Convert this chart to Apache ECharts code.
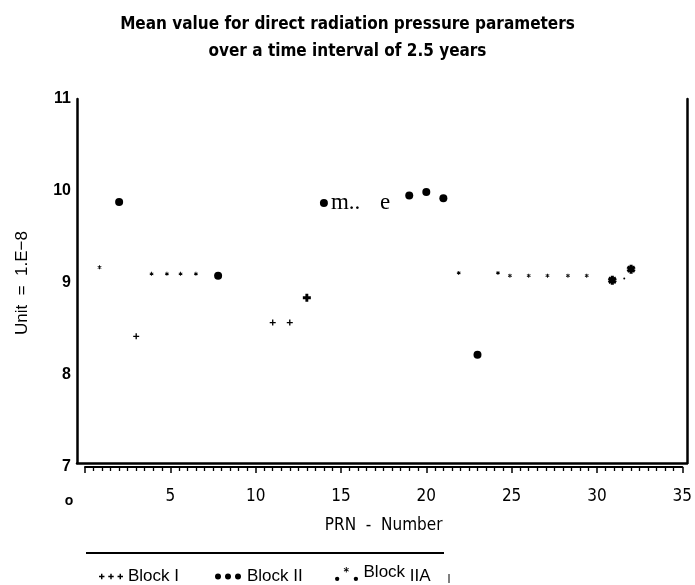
<!DOCTYPE html>
<html><head><meta charset="utf-8">
<script src="https://cdn.jsdelivr.net/npm/echarts@6/dist/echarts.min.js"></script>
<style>html,body{margin:0;padding:0;background:#fff}#c{width:695px;height:585px}</style>
</head><body><div id="c"></div>
<script>
// ---- data ----
const titleText = 'Mean value for direct radiation pressure parameters\nover a time interval of 2.5 years';
const xAxisName = 'PRN  -  Number';
const yAxisName = 'Unit  =  1.E\u22128';
const xTicks = [0, 5, 10, 15, 20, 25, 30, 35];
const yTicks = [7, 8, 9, 10, 11];
const blockIPrn = [3, 11, 12];
const blockIVal = [8.42, 8.57, 8.57];
const blockIBoldPrn = [13];
const blockIBoldVal = [8.84];
const blockIIPrn = [2, 7.8, 14, 19, 20, 21, 23];
const blockIIVal = [9.88, 9.08, 9.87, 9.95, 9.99, 9.92, 8.22];
const blockIIAPrn = [0.85, 3.9, 4.8, 5.6, 6.5, 21.9, 24.2, 24.9, 26.0, 27.1, 28.3, 29.4];
const blockIIAVal = [9.17, 9.10, 9.10, 9.10, 9.10, 9.11, 9.11, 9.08, 9.08, 9.08, 9.08, 9.08];
const blockIIADotPrn = [31.6];
const blockIIADotVal = [9.05];
const blockIIABoldPrn = [30.9, 32.0];
const blockIIABoldVal = [9.03, 9.15];
const annotationPrn = 14;
const annotationText = ['m.. ', 'e'];
const seriesNames = ['Block I', 'Block II', 'Block IIA'];

// ---- symbols ----
function plusPath(t) { const a = 5 - t / 2, b = 5 + t / 2;
  return `M${a} 0H${b}V${a}H10V${b}H${b}V10H${a}V${b}H0V${a}H${a}Z`; }
function astPath(t) {
  const h = t / 2, nx = -0.5 * h, ny = 0.866 * h;
  const P = [0.67, 2.5], Q = [9.33, 7.5];
  const A = [P[0] + nx, P[1] + ny], B = [P[0] - nx, P[1] - ny], C = [Q[0] - nx, Q[1] - ny], D = [Q[0] + nx, Q[1] + ny];
  const m = p => [p[0], 10 - p[1]];
  const f = p => p[0].toFixed(2) + ' ' + p[1].toFixed(2);
  return `M${5 - h} 0L${5 + h} 0L${5 + h} 10L${5 - h} 10Z` +
    `M${f(A)}L${f(B)}L${f(C)}L${f(D)}Z` +
    `M${f(m(A))}L${f(m(D))}L${f(m(C))}L${f(m(B))}Z`;
}
function xf(path, s, dx, dy) {
  return path.replace(/([MLHV])([\d.\-]+)(?: ([\d.\-]+))?/g, (q, c, x, y) => {
    if (c === 'H') return 'H' + (+x * s + dx).toFixed(2);
    if (c === 'V') return 'V' + (+x * s + dy).toFixed(2);
    return c + (+x * s + dx).toFixed(2) + ' ' + (+y * s + dy).toFixed(2);
  });
}
const circ = (cx, cy, r) => `M${cx - r} ${cy}A${r} ${r} 0 1 0 ${cx + r} ${cy}A${r} ${r} 0 1 0 ${cx - r} ${cy}Z`;
const PLUS = 'path://' + plusPath(2.2);
const PLUS_B = 'path://' + plusPath(3.6);
const AST = 'path://' + astPath(2.2);
const AST_B = 'path://' + astPath(3.6);
const legPlus = 'path://' + [0, 17, 34].map(o => xf(plusPath(2.6), 1, o, 0)).join('');
const legDots = 'path://' + [3, 13, 23].map(c => circ(c, 3, 3)).join('');
const legIIA = 'path://' + circ(2.5, 12, 2.2) + xf(astPath(1.6), 0.55, 9, 0) + circ(21.5, 12, 2.2);

const toPts = (xs, ys) => xs.map((x, i) => [x, ys[i]]);
const black = '#000';
const sansNarrow = '"Liberation Sans Narrow","DejaVu Sans Condensed","Liberation Sans",Arial,sans-serif';
const sans = '"Liberation Sans",Arial,sans-serif';
const serif = '"Liberation Serif","DejaVu Serif",serif';
const mark = { color: black, opacity: 1 };

const chart = echarts.init(document.getElementById('c'), null, { renderer: 'canvas' });
chart.setOption({
  animation: false,
  backgroundColor: '#fff',
  title: {
    text: titleText, left: 'center', top: 6,
    textStyle: { fontFamily: sansNarrow, fontWeight: 'bold', fontSize: 17, lineHeight: 27, color: black }
  },
  grid: [
    { left: 77, right: 8, top: 99, bottom: 122 },
    { left: 85, right: 12, top: 99, bottom: 118 }
  ],
  xAxis: [
    { gridIndex: 0, type: 'value', position: 'top', min: 0, max: 1,
      axisLine: { show: true, lineStyle: { color: black, width: 2.5 } },
      axisTick: { show: false }, axisLabel: { show: false }, splitLine: { show: false } },
    { gridIndex: 1, type: 'value', min: xTicks[0], max: xTicks[xTicks.length - 1], interval: 5,
      name: xAxisName, nameLocation: 'middle', nameGap: 50,
      nameTextStyle: { fontFamily: sansNarrow, fontSize: 17, color: black },
      axisLine: { show: true, onZero: false, lineStyle: { color: black, width: 2 } },
      axisTick: { show: true, length: 6, lineStyle: { color: black, width: 1.5 } },
      minorTick: { show: true, splitNumber: 10, length: 4, lineStyle: { color: black, width: 1.3 } },
      splitLine: { show: false },
      axisLabel: { margin: 21, fontFamily: sansNarrow, fontSize: 17, color: black,
        formatter: v => v === 0 ? '{z|o}' : String(v),
        rich: { z: { fontFamily: sans, fontWeight: 'bold', fontSize: 14, padding: [6, 32, 0, 0] } } } }
  ],
  yAxis: [
    { gridIndex: 0, type: 'value', min: 0, max: 1, position: 'left',
      axisLine: { show: true, lineStyle: { color: black, width: 2.5 } },
      axisTick: { show: false }, axisLabel: { show: false }, splitLine: { show: false } },
    { gridIndex: 0, type: 'value', min: 0, max: 1, position: 'right',
      axisLine: { show: true, lineStyle: { color: black, width: 2.5 } },
      axisTick: { show: false }, axisLabel: { show: false }, splitLine: { show: false } },
    { gridIndex: 1, type: 'value', min: yTicks[0], max: yTicks[yTicks.length - 1], interval: 1,
      offset: 8,
      name: yAxisName, nameLocation: 'middle', nameGap: 46, nameRotate: 90,
      nameTextStyle: { fontFamily: sans, fontSize: 17, color: black },
      axisLine: { show: false }, axisTick: { show: false }, splitLine: { show: false },
      axisLabel: { margin: 6, fontFamily: sans, fontWeight: 'bold', fontSize: 16, color: black } }
  ],
  legend: [
    { data: [{ name: seriesNames[0], icon: legPlus }], left: 94, top: 563, itemWidth: 24, itemHeight: 6,
      selectedMode: false, textStyle: { fontFamily: sans, fontSize: 17, color: black } },
    { data: [{ name: seriesNames[1], icon: legDots }], left: 210, top: 563, itemWidth: 28, itemHeight: 6,
      selectedMode: false, textStyle: { fontFamily: sans, fontSize: 17, color: black } },
    { data: [{ name: seriesNames[2], icon: legIIA }], left: 330, top: 559, itemWidth: 24, itemHeight: 14,
      selectedMode: false, formatter: n => '{a|Block }{b|IIA}',
      textStyle: { fontFamily: sans, fontSize: 17, color: black,
        rich: { a: { fontFamily: sans, fontSize: 17, color: black, padding: [0, 0, 3, 0] },
                b: { fontFamily: sans, fontSize: 17, color: black, padding: [5, 0, 0, 0] } } } }
  ],
  graphic: [
    { type: 'line', shape: { x1: 86, y1: 553, x2: 444, y2: 553 }, style: { stroke: black, lineWidth: 2 } },
    { type: 'line', shape: { x1: 449, y1: 574, x2: 449, y2: 583 }, style: { stroke: black, lineWidth: 1 } }
  ],
  series: [
    { name: seriesNames[0], type: 'scatter', xAxisIndex: 1, yAxisIndex: 2, symbol: PLUS, symbolSize: 6,
      itemStyle: mark, data: toPts(blockIPrn, blockIVal) },
    { name: seriesNames[0], type: 'scatter', xAxisIndex: 1, yAxisIndex: 2, symbol: PLUS_B, symbolSize: 8,
      itemStyle: mark, data: toPts(blockIBoldPrn, blockIBoldVal) },
    { name: seriesNames[1], type: 'scatter', xAxisIndex: 1, yAxisIndex: 2, symbol: 'circle', symbolSize: 8,
      itemStyle: mark,
      data: toPts(blockIIPrn, blockIIVal).map(p => p[0] === annotationPrn ? {
        value: p, label: { show: true, position: 'right', distance: 3,
          formatter: '{a|' + annotationText[0] + '}{b|' + annotationText[1] + '}',
          rich: { a: { fontFamily: serif, fontSize: 23, color: black },
                  b: { fontFamily: serif, fontSize: 23, color: black, padding: [0, 0, 0, 14] } } }
      } : p) },
    { name: seriesNames[2], type: 'scatter', xAxisIndex: 1, yAxisIndex: 2, symbol: AST, symbolSize: 4,
      itemStyle: mark, data: toPts(blockIIAPrn, blockIIAVal) },
    { name: seriesNames[2], type: 'scatter', xAxisIndex: 1, yAxisIndex: 2, symbol: 'circle', symbolSize: 2,
      itemStyle: mark, data: toPts(blockIIADotPrn, blockIIADotVal) },
    { name: seriesNames[2], type: 'scatter', xAxisIndex: 1, yAxisIndex: 2, symbol: AST_B, symbolSize: 9,
      itemStyle: mark, data: toPts(blockIIABoldPrn, blockIIABoldVal) }
  ]
});
</script></body></html>
